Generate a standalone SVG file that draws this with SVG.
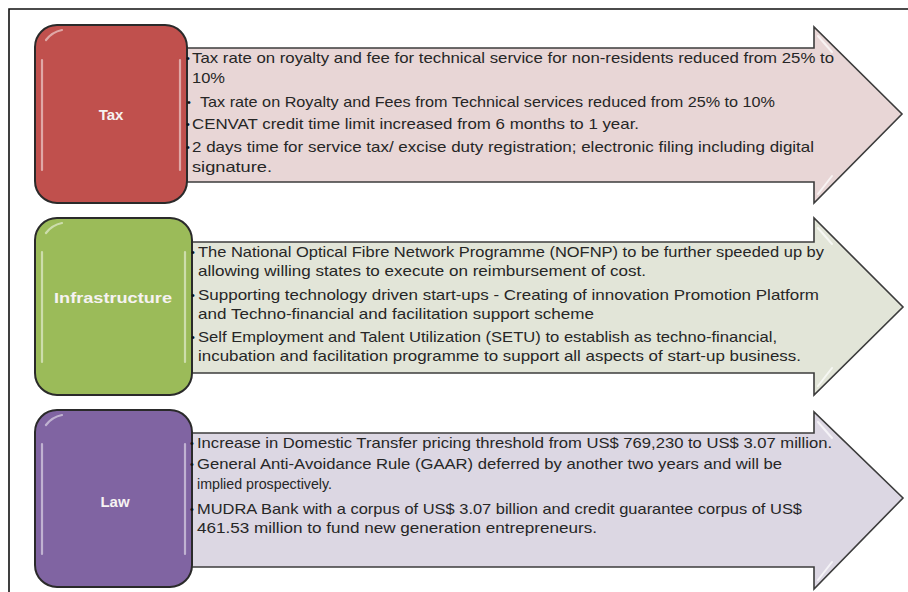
<svg xmlns="http://www.w3.org/2000/svg" width="908" height="592" viewBox="0 0 908 592">
<style>
.frame{fill:none;stroke:#111;stroke-width:1.6}
.box{stroke:#2a2a2a;stroke-width:2}
.arrow{stroke:#3c3c3c;stroke-width:1.6;stroke-linejoin:miter}
.t{font-family:"Liberation Sans",Arial,sans-serif;font-size:15px;fill:#262626}
.b{font-family:"Liberation Sans",Arial,sans-serif;font-size:11px;fill:#111}
.lbl{font-family:"Liberation Sans",Arial,sans-serif;font-size:15px;font-weight:bold;fill:#f6f2f2;text-anchor:middle}
.hl{fill:none;stroke:#fff;stroke-opacity:0.5;stroke-width:2.2;stroke-linecap:round}
.ahl{fill:none;stroke:#fff;stroke-opacity:0.7;stroke-width:2;stroke-linecap:round}
</style>
<rect width="908" height="592" fill="#ffffff"/>
<path class="frame" d="M9,592 V9 H908"/>

<g id="tax">
  <polygon class="arrow" fill="#e8d6d6" points="170,48 814,48 814,27 902,114 814,203 814,182 170,182"/>
  <path class="ahl" d="M818,36 L832,52 M832,176 L818,194"/>
  <rect class="box" x="35" y="25" width="152" height="178" rx="22" fill="#c0504d"/>
  <path class="hl" d="M42,60 V170 M180,60 V170 M46,40 Q52,32 62,30"/>
  <text class="lbl" x="111" y="120">Tax</text>
  <text class="b" x="186" y="62">•</text>
  <text class="t" x="192" y="63" textLength="642" lengthAdjust="spacingAndGlyphs">Tax rate on royalty and fee for technical service for non-residents reduced from 25% to</text>
  <text class="t" x="192" y="83" textLength="33" lengthAdjust="spacingAndGlyphs">10%</text>
  <text class="b" x="187" y="106">•</text>
  <text class="t" x="200" y="107" textLength="575" lengthAdjust="spacingAndGlyphs">Tax rate on Royalty and Fees from Technical services reduced from 25% to 10%</text>
  <text class="b" x="186" y="128">•</text>
  <text class="t" x="192" y="129" textLength="447" lengthAdjust="spacingAndGlyphs">CENVAT credit time limit increased from 6 months to 1 year.</text>
  <text class="b" x="186" y="151">•</text>
  <text class="t" x="192" y="152" textLength="622" lengthAdjust="spacingAndGlyphs">2 days time for service tax/ excise duty registration; electronic filing including digital</text>
  <text class="t" x="192" y="172" textLength="80" lengthAdjust="spacingAndGlyphs">signature.</text>
</g>

<g id="infrastructure">
  <polygon class="arrow" fill="#e2e5d8" points="175,242 814,242 814,218 903,307 814,395 814,373 175,373"/>
  <path class="ahl" d="M818,228 L832,244 M832,368 L818,386"/>
  <rect class="box" x="35" y="218" width="157" height="177" rx="22" fill="#9bbb59"/>
  <path class="hl" d="M42,252 V362 M185,252 V362 M46,233 Q52,225 62,223"/>
  <text class="lbl" x="113" y="303" textLength="118" lengthAdjust="spacingAndGlyphs">Infrastructure</text>
  <text class="b" x="191" y="256">•</text>
  <text class="t" x="198" y="257" textLength="626" lengthAdjust="spacingAndGlyphs">The National Optical Fibre Network Programme (NOFNP) to be further speeded up by</text>
  <text class="t" x="198" y="276" textLength="448" lengthAdjust="spacingAndGlyphs">allowing willing states to execute on reimbursement of cost.</text>
  <text class="b" x="191" y="299">•</text>
  <text class="t" x="198" y="300" textLength="621" lengthAdjust="spacingAndGlyphs">Supporting technology driven start-ups - Creating of innovation Promotion Platform</text>
  <text class="t" x="198" y="319" textLength="396" lengthAdjust="spacingAndGlyphs">and Techno-financial and facilitation support scheme</text>
  <text class="b" x="191" y="341">•</text>
  <text class="t" x="198" y="342" textLength="579" lengthAdjust="spacingAndGlyphs">Self Employment and Talent Utilization (SETU) to establish as techno-financial,</text>
  <text class="t" x="198" y="361" textLength="603" lengthAdjust="spacingAndGlyphs">incubation and facilitation programme to support all aspects of start-up business.</text>
</g>

<g id="law">
  <polygon class="arrow" fill="#dcd7e3" points="175,433 814,433 814,412 903,498 814,589 814,567 175,567"/>
  <path class="ahl" d="M818,422 L832,438 M832,562 L818,580"/>
  <rect class="box" x="35" y="410" width="157" height="177" rx="22" fill="#8064a2"/>
  <path class="hl" d="M42,444 V554 M185,444 V554 M46,425 Q52,417 62,415"/>
  <text class="lbl" x="115" y="507">Law</text>
  <text class="b" x="190" y="447">•</text>
  <text class="t" x="197" y="448" textLength="635" lengthAdjust="spacingAndGlyphs">Increase in Domestic Transfer pricing threshold from US$ 769,230 to US$ 3.07 million.</text>
  <text class="b" x="190" y="468">•</text>
  <text class="t" x="197" y="469" textLength="585" lengthAdjust="spacingAndGlyphs">General Anti-Avoidance Rule (GAAR) deferred by another two years and will be</text>
  <text class="t" x="197" y="489" textLength="135" lengthAdjust="spacingAndGlyphs">implied prospectively.</text>
  <text class="b" x="190" y="513">•</text>
  <text class="t" x="197" y="514" textLength="605" lengthAdjust="spacingAndGlyphs">MUDRA Bank with a corpus of US$ 3.07 billion and credit guarantee corpus of US$</text>
  <text class="t" x="197" y="533" textLength="400" lengthAdjust="spacingAndGlyphs">461.53 million to fund new generation entrepreneurs.</text>
</g>

<g id="connectors"></g>
</svg>
